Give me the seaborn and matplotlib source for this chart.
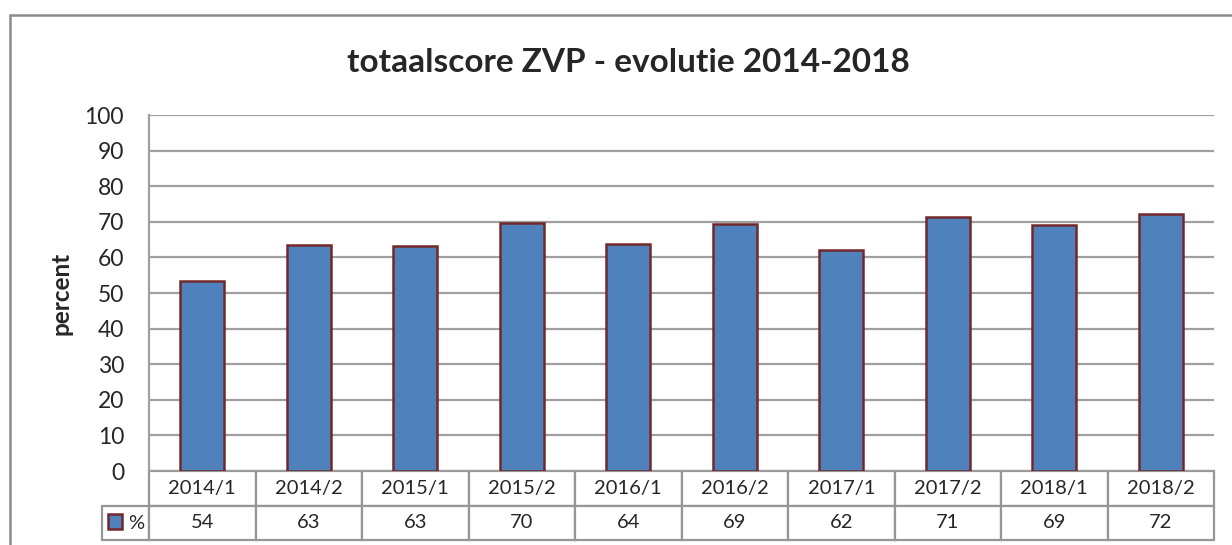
import pandas as pd
import matplotlib.pyplot as plt
import seaborn as sns
from matplotlib.lines import Line2D

# data
periods = ["2014/1", "2014/2", "2015/1", "2015/2", "2016/1",
           "2016/2", "2017/1", "2017/2", "2018/1", "2018/2"]
scores = [53.5, 63.4, 63.1, 69.6, 63.8, 69.3, 62.0, 71.3, 69.0, 72.2]
table_labels = ["54", "63", "63", "70", "64", "69", "62", "71", "69", "72"]
y_ticks = list(range(0, 101, 10))

df = pd.DataFrame({"periode": periods, "score": scores})

sns.set_style("white")
plt.rcParams['font.family'] = ['Lato', 'DejaVu Sans']

fig = plt.figure(figsize=(12.32, 5.45), dpi=100)
ax = fig.add_axes([149 / 1232, 1 - 471 / 545, 1065 / 1232, 356 / 545])

sns.barplot(data=df, x="periode", y="score", color="#4F81BD",
            edgecolor="#722828", linewidth=1.8, width=0.415,
            saturation=1, ax=ax, zorder=3)

ax.set_ylim(0, 100)
ax.set_xlim(-0.5, len(periods) - 0.5)
ax.set_yticks(y_ticks)
ax.tick_params(axis="y", length=0, pad=18, labelsize=16.5)
ax.set_xticks([])
ax.set_xlabel("")
ax.set_ylabel("percent", fontsize=17.5, fontweight="bold")
ax.yaxis.set_label_coords(-76 / 1065, 0.5)
ax.grid(axis="y", color="#a0a0a0", linewidth=1.6, zorder=0)
ax.set_axisbelow(True)
for side in ["top", "right", "bottom"]:
    ax.spines[side].set_visible(False)
ax.spines["left"].set_color("#a0a0a0")
ax.spines["left"].set_linewidth(1.6)

# data table under the bars; first column holds the legend key
key_w = 0.1 * 47 / 106.5
tbl = ax.table(cellText=[[""] + table_labels], colLabels=[""] + periods,
               colWidths=[key_w] + [0.1] * len(periods), cellLoc="center",
               bbox=[-47 / 1065, -69 / 356, 1112 / 1065, 69 / 356])
tbl.auto_set_font_size(False)
tbl.set_fontsize(14.5)
for cell in tbl.get_celld().values():
    cell.set_edgecolor("#969696")
    cell.set_linewidth(1.6)
tbl[(0, 0)].visible_edges = "open"

# legend key inside the first table cell
ax.legend(handles=[ax.patches[0]], labels=["%"], loc="center",
          bbox_to_anchor=(-23 / 1065, -52 / 356), frameon=False,
          handlelength=0.7, handleheight=0.7, handletextpad=0.3,
          borderpad=0, fontsize=14.5)

fig.text(628 / 1232, 1 - 62 / 545, "totaalscore ZVP - evolutie 2014-2018",
         ha="center", va="center", fontsize=24, fontweight="bold")

# outer chart frame (top and left edges visible)
fig.add_artist(Line2D([10 / 1232, 10 / 1232], [0, 1 - 15 / 545],
                      transform=fig.transFigure, color="#8c8c8c", linewidth=1.8))
fig.add_artist(Line2D([10 / 1232, 1], [1 - 15 / 545, 1 - 15 / 545],
                      transform=fig.transFigure, color="#8c8c8c", linewidth=1.8))

fig.savefig("out.png", dpi=100)
